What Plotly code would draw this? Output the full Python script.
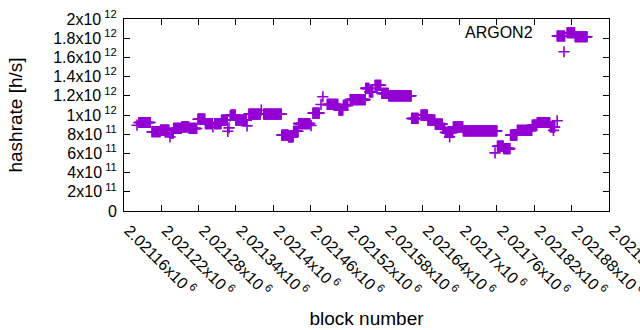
import numpy as np
import plotly.graph_objects as go

# Runs of constant hashrate: first block, last block, value [h/s]
run_start = [2021181, 2021184, 2021205, 2021219, 2021234, 2021236, 2021240, 2021253, 2021265,
             2021279, 2021291, 2021303, 2021306, 2021317, 2021327, 2021329, 2021331, 2021332,
             2021340, 2021358, 2021361, 2021381, 2021385, 2021414, 2021425, 2021433, 2021441,
             2021461, 2021464, 2021477, 2021480, 2021487, 2021506, 2021513, 2021524, 2021549,
             2021555, 2021564, 2021575, 2021586, 2021623, 2021638, 2021649, 2021661, 2021673,
             2021677, 2021684, 2021690, 2021706, 2021757, 2021761, 2021771, 2021782, 2021793,
             2021817, 2021825, 2021846, 2021851, 2021857, 2021857, 2021868, 2021873, 2021886]
run_end = [2021181, 2021202, 2021218, 2021232, 2021234, 2021239, 2021252, 2021264, 2021277,
           2021290, 2021302, 2021303, 2021316, 2021326, 2021327, 2021329, 2021331, 2021339,
           2021357, 2021358, 2021379, 2021381, 2021413, 2021424, 2021432, 2021440, 2021459,
           2021461, 2021474, 2021477, 2021480, 2021504, 2021512, 2021520, 2021548, 2021554,
           2021560, 2021573, 2021585, 2021622, 2021633, 2021648, 2021660, 2021672, 2021676,
           2021689, 2021684, 2021705, 2021760, 2021757, 2021770, 2021781, 2021792, 2021816,
           2021824, 2021845, 2021853, 2021851, 2021857, 2021869, 2021868, 2021885, 2021905]
run_value = [0.894e12, 0.922e12, 0.826e12, 0.842e12, 0.772e12, 0.81e12, 0.86e12, 0.876e12, 0.86e12,
             0.956e12, 0.91e12, 0.876e12, 0.91e12, 0.946e12, 0.83e12, 0.866e12, 0.99e12, 0.998e12,
             0.946e12, 0.887e12, 1.009e12, 1.05e12, 1.009e12, 0.79e12, 0.772e12, 0.83e12, 0.91e12,
             0.89e12, 1.02e12, 1.11e12, 1.19e12, 1.11e12, 1.05e12, 1.10e12, 1.16e12, 1.277e12,
             1.24e12, 1.31e12, 1.225e12, 1.20e12, 0.964e12, 0.998e12, 0.946e12, 0.905e12, 0.86e12,
             0.818e12, 0.772e12, 0.876e12, 0.835e12, 0.605e12, 0.675e12, 0.65e12, 0.79e12, 0.84e12,
             0.894e12, 0.922e12, 0.876e12, 0.84e12, 0.94e12, 1.823e12, 1.659e12, 1.857e12, 1.815e12]

x_tick_vals = [2021160, 2021220, 2021280, 2021340, 2021400, 2021460, 2021520,
               2021580, 2021640, 2021700, 2021760, 2021820, 2021880, 2021940]
x_tick_text = ["2.02116x10<sup> 6</sup>", "2.02122x10<sup> 6</sup>", "2.02128x10<sup> 6</sup>",
               "2.02134x10<sup> 6</sup>", "2.0214x10<sup> 6</sup>", "2.02146x10<sup> 6</sup>",
               "2.02152x10<sup> 6</sup>", "2.02158x10<sup> 6</sup>", "2.02164x10<sup> 6</sup>",
               "2.0217x10<sup> 6</sup>", "2.02176x10<sup> 6</sup>", "2.02182x10<sup> 6</sup>",
               "2.02188x10<sup> 6</sup>", "2.02194x10<sup> 6</sup>"]
y_tick_vals = [0, 2e11, 4e11, 6e11, 8e11, 1e12, 1.2e12, 1.4e12, 1.6e12, 1.8e12, 2e12]
y_tick_text = ["0", "2x10<sup> 11</sup>", "4x10<sup> 11</sup>", "6x10<sup> 11</sup>",
               "8x10<sup> 11</sup>", "1x10<sup> 12</sup>", "1.2x10<sup> 12</sup>",
               "1.4x10<sup> 12</sup>", "1.6x10<sup> 12</sup>", "1.8x10<sup> 12</sup>",
               "2x10<sup> 12</sup>"]

blocks = []
values = []
for s, e, v in zip(run_start, run_end, run_value):
    for b in range(s, e + 1):
        blocks.append(b)
        values.append(v)

COLOR = "#9400D3"
FONT = "Liberation Sans, Arial, sans-serif"
FS = 16

fig = go.Figure()
fig.add_trace(go.Scatter(
    x=blocks, y=values, mode="markers", name="ARGON2", showlegend=False,
    marker=dict(symbol="cross-thin", size=8, color=COLOR,
                line=dict(color=COLOR, width=1.6)),
))

fig.add_annotation(text="ARGON2", xref="paper", yref="paper", x=(535 - 124) / 485,
                   y=(210.7 - 32) / 191.7, xanchor="right", yanchor="middle",
                   showarrow=False, font=dict(family=FONT, size=FS, color="#000"))

fig.update_layout(
    width=640, height=330,
    margin=dict(l=124, r=31, t=19, b=119, autoexpand=False),
    paper_bgcolor="white", plot_bgcolor="white",
    font=dict(family=FONT, size=FS, color="#000"),
)
fig.update_xaxes(
    range=[2021160, 2021940.4], tickmode="array", tickvals=x_tick_vals, ticktext=x_tick_text,
    tickangle=45, ticks="inside", ticklen=6, tickcolor="#000", mirror="allticks",
    ticklabeloverflow="allow", ticklabelshift=5, ticklabelstandoff=3,
    showline=True, linecolor="#000", linewidth=1, showgrid=False, zeroline=False,
    automargin=False, title=dict(text="block number", standoff=12), tickfont=dict(size=FS),
)
fig.update_yaxes(
    range=[0, 2e12], tickmode="array", tickvals=y_tick_vals, ticktext=y_tick_text,
    ticks="inside", ticklen=6, tickcolor="#000", mirror="allticks",
    ticklabeloverflow="allow", ticklabelstandoff=3,
    showline=True, linecolor="#000", linewidth=1, showgrid=False, zeroline=False,
    automargin=False, title=dict(text="hashrate [h/s]", standoff=25), tickfont=dict(size=FS),
)

fig.write_html("out.html", config={"displayModeBar": False},
               post_script="document.body.style.margin='0';document.body.style.padding='0';")
